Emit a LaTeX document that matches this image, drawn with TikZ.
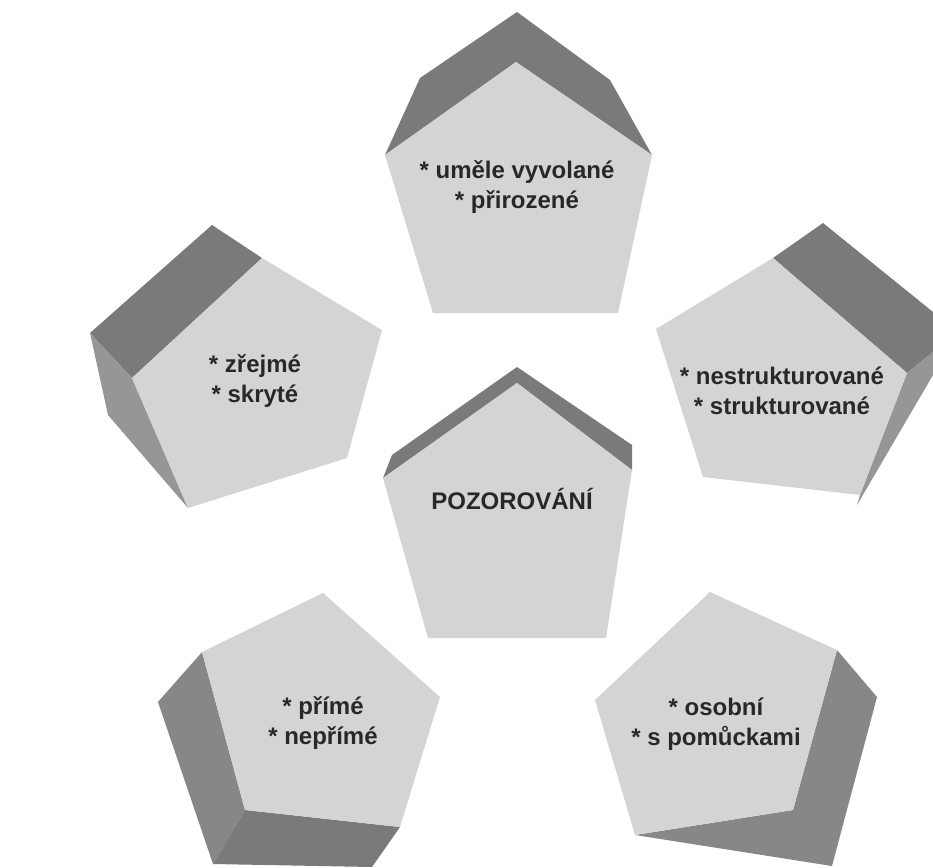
\documentclass[tikz,border=0pt]{standalone}
\usepackage{fontspec}
\setmainfont{Liberation Sans}
\definecolor{facelight}{RGB}{212,212,212}
\definecolor{facedark}{RGB}{122,122,122}
\definecolor{facemid}{RGB}{150,150,150}
\definecolor{facebot}{RGB}{135,135,135}
\definecolor{txtcol}{RGB}{40,40,40}
\tikzset{
  lightface/.style={fill=facelight},
  darkface/.style={fill=facedark},
  midface/.style={fill=facemid},
  botface/.style={fill=facebot},
  lbl/.style={font=\bfseries\fontsize{24}{30}\selectfont, text=txtcol, align=center, inner sep=0pt}
}
\begin{document}
\begin{tikzpicture}[x=1pt,y=-1pt]
\useasboundingbox (0,0) rectangle (933,867);
\fill[white] (0,0) rectangle (933,867);

% top prism
\fill[darkface] (385,155) -- (420,78) -- (517,12) -- (610,80) -- (652,155) -- (516,62) -- cycle;
\fill[lightface] (516,62) -- (652,155) -- (618,313) -- (433,313) -- (385,155) -- cycle;

% left prism
\fill[darkface] (212,225) -- (262,258) -- (132,378) -- (90,333) -- cycle;
\fill[midface] (90,333) -- (132,378) -- (188,508) -- (108,415) -- cycle;
\fill[lightface] (262,258) -- (382,330) -- (347,458) -- (188,508) -- (132,378) -- cycle;

% right prism
\fill[darkface] (773,258) -- (823,223) -- (933,312) -- (933,352) -- (907,373) -- cycle;
\fill[midface] (907,373) -- (933,352) -- (933,375) -- (857,505) -- (860,495) -- cycle;
\fill[lightface] (773,258) -- (907,373) -- (860,495) -- (703,477) -- (656,329) -- cycle;

% bottom-left prism
\fill[botface] (202,652) -- (158,702) -- (213,864) -- (245,810) -- cycle;
\fill[darkface] (245,810) -- (213,864) -- (372,867) -- (400,827) -- cycle;
\fill[lightface] (323,593) -- (440,697) -- (400,827) -- (245,810) -- (202,652) -- cycle;

% bottom-right prism
\fill[botface] (837,650) -- (877,697) -- (832,866) -- (635,835) -- (793,810) -- cycle;
\fill[lightface] (710,592) -- (837,650) -- (793,810) -- (635,835) -- (595,700) -- cycle;

% centre prism
\fill[darkface] (383,478) -- (392,455) -- (517,367) -- (632,445) -- (632,470) -- (517,383) -- cycle;
\fill[lightface] (517,383) -- (632,470) -- (606,638) -- (428,638) -- (383,478) -- cycle;

% labels
\node[lbl] (ttop) at (517,187) {* uměle vyvolané\\* přirozené};
\node[lbl] (tleft) at (255,381) {* zřejmé\\* skryté};
\node[lbl] (tright) at (782,391) {* nestrukturované\\* strukturované};
\node[lbl] (tbl) at (323,723) {* přímé\\* nepřímé};
\node[lbl] (tbr) at (716,724) {* osobní\\* s pomůckami};
\node[lbl] (tcen) at (512,499) {POZOROVÁNÍ};
\end{tikzpicture}
\end{document}
